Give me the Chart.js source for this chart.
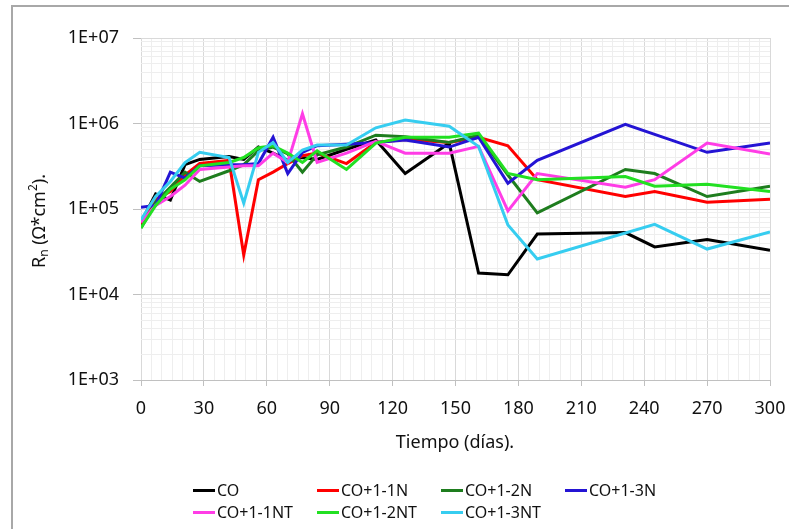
<!DOCTYPE html>
<html>
<head>
<meta charset="utf-8">
<script src="https://cdn.jsdelivr.net/npm/chart.js@4.4.0/dist/chart.umd.min.js"></script>
<style>
  body { margin: 0; background: #fff; }
  #wrap { position: relative; width: 789px; height: 529px; overflow: hidden; font-family: "Noto Sans", sans-serif; }
  #frame { position: absolute; left: 11px; top: 5px; width: 800px; height: 600px;
           border-left: 2px solid #a8a8a8; border-top: 2px solid #a8a8a8; }
  #legend { position: absolute; left: 193px; top: 479px; display: grid;
            grid-template-columns: 124px 124px 124px 124px; grid-auto-rows: 22px; font-size: 16px; color: #111; }
  .item { display: flex; align-items: center; white-space: nowrap; }
  .swatch { display: inline-block; width: 22px; height: 3px; margin-right: 2px; }
</style>
</head>
<body>
<div id="wrap">
  <canvas id="chart" width="789" height="529"></canvas>
  <div id="frame"></div>
  <div id="legend"></div>
</div>
<script>
// days of measurement
const days = [0, 7, 14, 21, 28, 42, 49, 56, 63, 70, 77, 84, 98, 112, 126, 147, 161, 175, 189, 231, 245, 270, 300];

// Rn values (ohm*cm2), null = no point
const co    = [7e4, 1.5e5, 1.27e5, 3.3e5, 3.8e5, 4.1e5, 3.8e5, 5.3e5, 4.5e5, 3.7e5, 4e5, 3.8e5, 5e5, 6.4e5, 2.6e5, 5.9e5, 1.78e4, 1.7e4, 5.1e4, 5.3e4, 3.6e4, 4.4e4, 3.3e4];
const co1n  = [6.5e4, 1.3e5, 1.6e5, 2.5e5, 3.4e5, 3.7e5, 2.9e4, 2.2e5, 2.7e5, 3.4e5, 4.2e5, 4.5e5, 3.4e5, 6e5, 6.5e5, 6e5, 6.9e5, 5.5e5, 2.2e5, 1.4e5, 1.6e5, 1.2e5, 1.3e5];
const co2n  = [6e4, 1.2e5, 1.8e5, 2.7e5, 2.1e5, 2.8e5, 3.3e5, 4.8e5, 5.3e5, 4.4e5, 2.7e5, 4.3e5, 5.3e5, 7.3e5, 7e5, 6e5, 7.3e5, 2.5e5, 9e4, 2.9e5, 2.6e5, 1.4e5, 1.85e5];
const co3n  = [1.05e5, 1.1e5, 2.7e5, 2.3e5, 3.2e5, 3.3e5, 3.3e5, 3.4e5, 6.9e5, 2.6e5, 4.6e5, 5.5e5, 5.7e5, 6e5, 6.4e5, 5.3e5, 6.9e5, 2e5, 3.7e5, 9.8e5, null, 4.6e5, 5.9e5];
const co1nt = [7e4, 1.1e5, 1.4e5, 1.9e5, 2.9e5, 3.1e5, 3.2e5, 3.2e5, 4.5e5, 3.5e5, 1.3e6, 3.5e5, 4.5e5, 6.2e5, 4.5e5, 4.5e5, 5.4e5, 9.5e4, 2.6e5, 1.8e5, 2.2e5, 5.9e5, 4.4e5];
const co2nt = [6e4, 1.1e5, 1.7e5, 2.2e5, 3.2e5, 3.5e5, 4e5, 5.2e5, 5.5e5, 4.5e5, 3.5e5, 4.8e5, 2.9e5, 5.9e5, 6.9e5, 6.9e5, 7.7e5, 2.6e5, 2.2e5, 2.4e5, 1.85e5, 1.95e5, 1.6e5];
const co3nt = [7.5e4, 1.4e5, 2.1e5, 3.5e5, 4.6e5, 4e5, 1.17e5, 4.6e5, 6e5, 3.5e5, 4.9e5, 5.6e5, 5.6e5, 8.9e5, 1.1e6, 9.3e5, 5.4e5, 6.5e4, 2.6e4, null, 6.6e4, 3.4e4, 5.4e4];

const seriesNames = ['CO', 'CO+1-1N', 'CO+1-2N', 'CO+1-3N', 'CO+1-1NT', 'CO+1-2NT', 'CO+1-3NT'];
const seriesData = [co, co1n, co2n, co3n, co1nt, co2nt, co3nt];
const colors = ['#000000', '#ff0000', '#1e7d1e', '#2414d4', '#ff3de6', '#22e022', '#36cdf0'];

// y ticks: 1..9 x 10^n from 1E+03 to 1E+07
const decades = [3, 4, 5, 6];
let yTicks = [];
decades.forEach(e => {
    for (let m = 1; m < 10; m++) yTicks.push(m * Math.pow(10, e));
});
yTicks.push(1e7);

function isDecade(v){
    const l = Math.log10(v);
    return Math.abs(l - Math.round(l)) < 1e-9;
}

const datasets = seriesData.map((arr, i) => ({
    label: seriesNames[i],
    data: days.map((d, j) => ({x: d, y: arr[j]})),
    borderColor: colors[i],
    backgroundColor: colors[i],
    borderWidth: 3,
    pointRadius: 0,
    tension: 0,
    spanGaps: true,
    order: seriesNames.length - i
}));

// axis titles with sub / superscript
const axisTitles = {
    id: 'axisTitles',
    afterDraw(chart){
        const c = chart.ctx;
        c.save();
        c.fillStyle = '#111';
        c.textBaseline = 'middle';
        // x title
        c.font = '18px "Noto Sans"';
        c.textAlign = 'center';
        c.fillText('Tiempo (días).', 455, 443);
        // y title
        c.translate(40, 221);
        c.rotate(-Math.PI / 2);
        c.textAlign = 'left';
        const big = '18px "Noto Sans"', small = '12px "Noto Sans"';
        const parts = [['R', big, 0], ['n', small, 5], [' (Ω*cm', big, 0], ['2', small, -6], [').', big, 0]];
        let total = 0;
        parts.forEach(p => { c.font = p[1]; total += c.measureText(p[0]).width; });
        let x = -total / 2;
        parts.forEach(p => {
            c.font = p[1];
            c.fillText(p[0], x, p[2]);
            x += c.measureText(p[0]).width;
        });
        c.restore();
    }
};

new Chart(document.getElementById('chart'), {
    type: 'line',
    data: { datasets: datasets },
    options: {
        responsive: false,
        animation: false,
        devicePixelRatio: 1,
        layout: { padding: { left: 0, top: 38, right: 19, bottom: 99 } },
        plugins: { legend: { display: false }, tooltip: { enabled: false } },
        scales: {
            x: {
                type: 'linear',
                min: 0, max: 300,
                afterFit(scale){ scale.height = 50; scale.paddingLeft = 0; scale.paddingRight = 0; },
                ticks: {
                    stepSize: 5, autoSkip: false, maxRotation: 0, padding: 12,
                    color: '#111', font: { family: 'Noto Sans', size: 18 },
                    callback: v => (v % 30 === 0 ? String(v) : '')
                },
                grid: {
                    tickLength: 6,
                    color: ctx => (ctx.tick && ctx.tick.value % 30 === 0 ? '#d9d9d9' : '#eeeeee'),
                    tickColor: ctx => (ctx.tick && ctx.tick.value % 30 === 0 ? '#c0c0c0' : 'rgba(0,0,0,0)')
                },
                border: { color: '#c0c0c0', width: 1 }
            },
            y: {
                type: 'logarithmic',
                min: 1e3, max: 1e7,
                afterBuildTicks(scale){ scale.ticks = yTicks.map(v => ({value: v, major: isDecade(v)})); },
                afterFit(scale){ scale.width = 141; scale.paddingTop = 0; scale.paddingBottom = 0; },
                ticks: {
                    autoSkip: false, padding: 14,
                    color: '#111', font: { family: 'Noto Sans', size: 18 },
                    callback: v => (isDecade(v) ? '1E+' + String(Math.round(Math.log10(v))).padStart(2, '0') : '')
                },
                grid: {
                    tickLength: 8,
                    color: ctx => (ctx.tick && isDecade(ctx.tick.value) ? '#d9d9d9' : '#eeeeee'),
                    tickColor: ctx => (ctx.tick && isDecade(ctx.tick.value) ? '#c0c0c0' : 'rgba(0,0,0,0)')
                },
                border: { display: false }
            }
        }
    },
    plugins: [axisTitles]
});

// legend, 4 columns like the original
const legend = document.getElementById('legend');
seriesNames.forEach((name, i) => {
    const item = document.createElement('div');
    item.className = 'item';
    item.innerHTML = '<span class="swatch" style="background:' + colors[i] + '"></span>' + name;
    legend.appendChild(item);
});
</script>
</body>
</html>
